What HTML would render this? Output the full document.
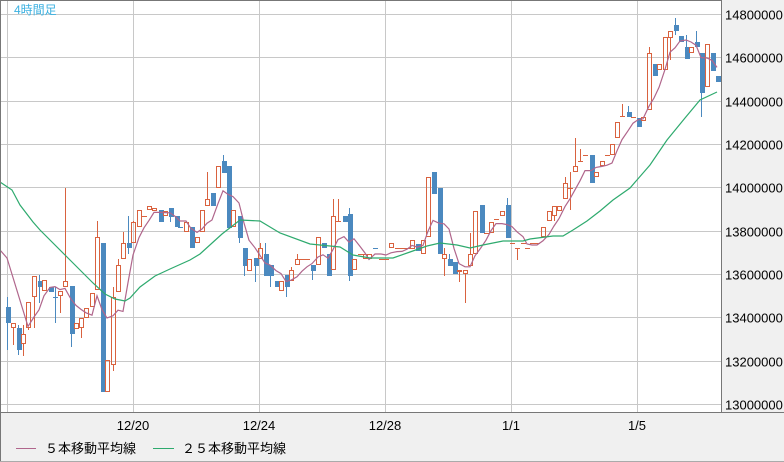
<!DOCTYPE html>
<html><head><meta charset="utf-8">
<style>
html,body{margin:0;padding:0;background:#fff;}
body{width:784px;height:462px;overflow:hidden;position:relative;font-family:"Liberation Sans","Noto Sans CJK JP",sans-serif;}
svg{position:absolute;left:0;top:0;}
</style></head><body>
<svg id="s" width="784" height="462" xmlns="http://www.w3.org/2000/svg" shape-rendering="crispEdges">
<rect x="0" y="0" width="784" height="462" fill="#f0f0f0"/>
<rect x="1" y="1" width="720" height="411" fill="#fff"/>
<g id="grid" stroke="#c8c8c8" stroke-width="1"></g>
<g id="cand"></g>
<g id="ma" fill="none" shape-rendering="auto"></g>
<line x1="0.5" y1="0" x2="0.5" y2="413" stroke="#777"/>
<line x1="0" y1="0.5" x2="721" y2="0.5" stroke="#777"/>
<line x1="721.5" y1="0" x2="721.5" y2="413" stroke="#777"/>
<line x1="0" y1="412.5" x2="784" y2="412.5" stroke="#777"/>
<line x1="0.5" y1="412" x2="0.5" y2="462" stroke="#777"/>
<line x1="0" y1="461.5" x2="784" y2="461.5" stroke="#aaa"/>
<text x="14" y="14" font-size="12" fill="#3ab0e0" font-family="Liberation Sans, Noto Sans CJK JP, sans-serif">4時間足</text>
<g id="lab" font-size="13" fill="#000" font-family="Liberation Sans, sans-serif"></g>
<line x1="16" y1="448.5" x2="36" y2="448.5" stroke="#b0668c"/>
<text x="45" y="453" font-size="13" fill="#000" font-family="Liberation Sans, Noto Sans CJK JP, sans-serif">５本移動平均線</text>
<line x1="153" y1="448.5" x2="174" y2="448.5" stroke="#2eaa6e"/>
<text x="182" y="453" font-size="13" fill="#000" font-family="Liberation Sans, Noto Sans CJK JP, sans-serif">２５本移動平均線</text>
</svg>
<script>
var NS="http://www.w3.org/2000/svg";
function el(p,t,a,txt){var e=document.createElementNS(NS,t);for(var k in a)e.setAttribute(k,a[k]);if(txt)e.textContent=txt;p.appendChild(e);return e;}
var g=document.getElementById('grid'),lab=document.getElementById('lab');
var labs=["14800000","14600000","14400000","14200000","14000000","13800000","13600000","13400000","13200000","13000000"];
for(var i=0;i<10;i++){var y=Math.round(14+i*43.33)+0.5;el(g,'line',{x1:1,y1:y,x2:721,y2:y});el(lab,'text',{x:725,y:y+5},labs[i]);}
var dx=[7,133,259,385,511,637],dl=["","12/20","12/24","12/28","1/1","1/5"];
for(var i=0;i<6;i++){var x=dx[i]+0.5;el(g,'line',{x1:x,y1:1,x2:x,y2:412});if(dl[i])el(lab,'text',{x:dx[i],y:430,'text-anchor':'middle'},dl[i]);}
var C=[
[7,'b',307,323,297,350],[13,'r',323,328,323,345],[18,'b',328,350,325,355],[23,'r',334,344,325,356],[28,'r',302,328,302,330],[34,'r',276,297,276,328],[39,'b',281,287,275,303],[44,'r',280,291],[50,'b',287,292],[55,'b',297,298,287,323],[60,'r',291,296,291,313],[65,'r',281,287,188,287],[71,'b',286,334,286,347],[76,'r',323,329],[81,'r',318,328,318,338],[86,'r',308,318],[92,'r',293,307],[97,'r',237,290,221,290],[102,'b',243,392],[107,'r',360,392],[113,'r',297,365,287,371],[118,'r',265,292,259,292],[123,'r',243,259,232,259],[128,'b',243,248,216,254],[133,'r',222,243,221,243],[139,'r',210,227],[144,'r',216,217],[149,'r',206,210],[154,'r',208,211],[160,'b',210,222],[165,'r',211,216],[170,'b',208,217,208,222],[176,'b',216,227],[180,'b',227,228],[186,'r',222,232],[191,'b',227,248],[197,'r',237,243],[202,'r',210,232],[207,'r',199,206,172,206],[212,'b',193,206],[218,'r',166,188],[223,'b',161,173,155,173],[228,'b',166,228],[233,'r',210,227],[239,'b',216,238,216,243],[244,'b',248,266,248,276],[249,'r',259,271],[255,'b',258,266,258,282],[260,'r',248,259,243,259],[265,'b',254,276,243,276],[270,'b',265,276,265,287],[276,'b',281,287],[281,'r',281,291],[286,'b',275,287,275,297],[291,'r',270,281,267,281],[297,'r',259,265,254,265],[302,'r',259,260],[307,'r',259,260],[312,'b',265,271,265,280],[318,'r',237,265],[323,'b',243,248],[328,'b',254,276],[333,'r',216,270,199,270],[338,'r',221,222,199,222],[344,'b',216,222],[349,'b',214,276,208,281],[354,'r',259,270],[360,'r',254,255],[365,'r',254,259],[369,'r',254,259],[375,'b',248,249],[381,'r',259,260],[386,'r',259,260],[391,'r',243,248],[397,'r',248,249],[402,'r',248,249],[407,'r',248,249],[412,'r',240,249],[417,'b',244,251],[423,'r',240,254],[428,'r',177,237],[433,'b',172,194],[439,'b',188,254],[444,'r',254,259,248,276],[449,'b',259,266,254,266],[454,'b',262,274],[459,'r',270,272,270,282],[465,'r',270,274,270,303],[470,'r',254,266,233,266],[475,'r',211,254],[481,'b',205,233],[486,'r',233,234],[491,'r',222,233],[496,'r',219,220],[502,'r',211,216],[507,'b',205,238,198,238],[512,'r',243,244],[517,'r',248,249,248,260],[523,'r',243,244],[527,'r',248,249],[532,'r',243,244],[537,'r',243,244],[543,'r',227,237],[549,'r',211,221],[554,'r',206,216,206,221],[559,'r',206,211],[565,'r',183,199,177,199],[570,'r',188,189,172,210],[575,'r',166,172,138,172],[580,'r',161,162,149,162],[585,'r',155,156],[591,'b',155,183],[596,'r',172,177],[602,'r',161,166],[607,'r',155,156],[612,'r',144,155],[617,'r',122,138],[622,'r',116,117,104,117],[628,'b',112,117,106,117],[633,'r',117,118],[638,'b',118,127],[643,'r',117,121],[649,'r',53,110,47,110],[654,'b',64,76],[659,'r',64,70],[665,'r',37,70],[670,'r',31,38,31,60],[675,'b',25,31,18,35],[680,'b',36,42],[686,'b',47,59,35,59],[691,'r',47,53],[696,'b',42,47,31,47],[701,'b',53,93,53,117],[707,'r',44,87],[712,'b',53,71],[717,'b',76,82]];
var cg=document.getElementById('cand');var closes=[];
C.forEach(function(c){var x=c[0],col=c[1]=='r'?'#d9623f':'#4b89bf',t=c[2],b=c[3],wt=c.length>4?c[4]:t,wb=c.length>4?c[5]:b;
 closes.push([x,c[1]=='r'?t:b]);
 if(wt<t)el(cg,'line',{x1:x+0.5,y1:wt,x2:x+0.5,y2:t,stroke:col});
 if(wb>b)el(cg,'line',{x1:x+0.5,y1:b,x2:x+0.5,y2:wb,stroke:col});
 if(b-t<=1){el(cg,'line',{x1:x-2,y1:t+0.5,x2:x+3,y2:t+0.5,stroke:col});}
 else if(c[1]=='r'){el(cg,'rect',{x:x-1.5,y:t+0.5,width:4,height:b-t-1,fill:'none',stroke:col});}
 else{el(cg,'rect',{x:x-1,y:t,width:5,height:b-t,fill:col});}
});
var pts=[[0,250],[7,258]];
for(var i=4;i<closes.length;i++){var s=0;for(var j=i-4;j<=i;j++)s+=closes[j][1];pts.push([closes[i][0],s/5]);}
var mg=document.getElementById('ma');
el(mg,'polyline',{points:pts.map(function(p){return p[0]+','+p[1].toFixed(1)}).join(' '),stroke:'#b0668c','stroke-width':1.2});
var gp=[[0,182],[12,190],[20,205],[33,222],[40,230],[65,255],[85,275],[93,283],[105,294],[115,299],[125,301],[130,298],[140,287],[155,276],[170,269],[190,260],[200,254],[222,234],[240,220],[260,221],[280,233],[310,244],[340,247],[353,255],[370,258],[393,258],[410,252],[427,246],[440,243],[457,245],[470,248],[483,245],[503,241],[523,241],[530,239],[553,236],[563,236],[573,230],[587,221],[600,211],[613,200],[630,188],[650,165],[667,140],[685,118],[700,100],[717,92]];
el(mg,'polyline',{points:gp.map(function(p){return p.join(',')}).join(' '),stroke:'#2eaa6e','stroke-width':1.2});
</script>
</body></html>
